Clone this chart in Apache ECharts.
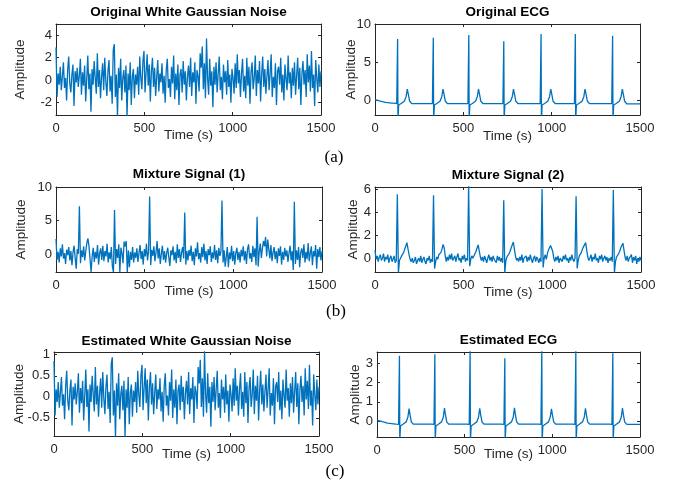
<!DOCTYPE html>
<html>
<head>
<meta charset="utf-8">
<title>WGN / ECG separation</title>
<script src="https://cdn.jsdelivr.net/npm/echarts@6/dist/echarts.min.js"></script>
<style>
html, body { margin: 0; padding: 0; background: #fff; }
#main { width: 676px; height: 489px; }
</style>
</head>
<body>
<div id="main"></div>
<script>
var step = 6;
var xTicks = [0, 500, 1000, 1500];

var noiseOrig = [
  2.9, -1.5, 0.6, -0.4, 1.2, -0.9, 0.3, 1.6, -0.7, 0.2, -1.8, 0.9, 2.1, -0.3, -1.1, 0.5, 1.4, -2.3, 0.8, -0.2, 1.1, -0.6, 0.4, 1.9, -1.3,
  0.7, -0.5, 1.3, -1.9, 0.1, 2.2, -0.8, 0.6, -2.8, 1.0, -0.4, 1.7, 0.2, -1.2, 2.4, -0.6, 0.9, -1.6, 0.3, 1.5, -0.9, 2.0, -0.1, -1.4, 0.8,
  1.8, -1.0, 0.4, -2.1, 2.7, 3.2, -1.5, 0.5, -3.3, 1.1, -0.7, 1.9, -1.8, 0.2, 0.9, -1.1, 1.3, -3.3, 0.6, -0.9, 1.6, -2.2, 0.3, 1.0, -1.6,
  0.5, -0.4, 1.2, -1.3, 2.1, 0.2, -0.8, 1.7, 2.6, -1.1, 0.7, 2.3, -0.5, 1.4, -1.9, 0.8, 2.0, -0.6, 1.1, -1.4, 0.3, 1.8, -1.0, 0.6, -0.2,
  1.5, -1.2, 0.4, -2.0, 0.9, 1.9, -0.7, 0.1, -1.5, 1.2, -0.3, 2.2, -1.7, 0.6, -0.9, 1.4, -2.2, 0.5, 1.0, -1.1, 1.7, -0.4, 0.8, -1.8, 0.3,
  1.3, -0.6, 2.0, -1.4, 0.7, -0.2, 1.6, -2.1, 0.9, 0.4, -1.0, 2.4, 1.1, 3.0, -0.8, 1.5, -1.6, 3.7, 0.2, -1.3, 1.9, -0.5, 0.8, -2.4, 1.2,
  -0.4, 1.6, -1.1, 0.6, 2.1, -0.9, 0.3, -1.7, 1.4, -0.2, 0.8, -1.3, 1.8, -0.6, 0.5, -2.0, 1.0, 0.2, -1.2, 1.5, -0.7, 2.3, -0.3, 0.9, -1.5,
  0.6, 1.9, -1.0, 0.4, -1.6, 2.0, -0.5, 1.2, -2.1, 0.7, 1.6, -0.8, 0.2, 2.2, -1.4, 0.9, -0.3, 1.7, -1.9, 0.5, 2.1, -0.6, 1.0, -1.2, 0.4,
  1.8, -0.9, 0.6, 2.3, -1.5, 0.3, -0.7, 1.5, -2.2, 0.8, 1.2, -0.4, 2.0, -1.1, 0.5, -1.8, 1.4, 0.1, -0.9, 2.2, -0.3, 0.7, -1.6, 1.1, -0.5,
  1.6, -1.3, 0.4, 2.0, -0.8, 1.1, -2.2, 0.6, 1.7, -0.4, 0.9, -1.5, 2.3, -0.2, 1.3, -1.0, 2.6, -0.7, 0.5, -2.3, 1.8, 0.2, -1.1, 1.4, -0.6,
  0.8
];

var mixture1 = [
  2.3, -0.8, 0.4, -1.2, 0.9, -0.3, 1.5, -0.6, 0.2, -1.4, 0.7, -0.1, 1.1, -0.9, 0.5, -1.6, 0.3, 1.3, -0.5, -2.1, 0.8, 0.1, 7.15, -1.3, 0.6,
  -0.4, 1.2, -0.9, 0.5, 1.7, 2.4, 1.2, -0.7, -2.6, -0.2, 1.0, -1.1, 0.4, -0.6, 1.4, -1.5, 0.2, 0.9, -0.8, 1.3, -1.0, 0.5, -0.3, 1.6, -1.2,
  0.3, -0.7, 1.1, -1.8, -2.6, 6.6, -1.4, 0.8, -0.5, 1.5, -2.6, 1.0, 0.2, -1.3, 1.9, 1.2, 2.0, -2.6, 0.6, -1.9, 0.4, -0.8, 1.1, -1.2, 0.3,
  -0.5, 0.9, -1.1, 0.2, 1.4, -0.7, 0.5, -1.5, 0.8, -0.3, 1.6, -0.9, 0.4, 8.6, -1.6, 0.7, -0.2, 1.2, -1.0, 0.3, 2.0, -0.6, 0.9, -1.4, 0.1,
  1.3, -0.8, 0.5, -1.2, 0.2, 1.0, -0.4, -1.7, 0.6, -0.1, 1.2, -0.9, 0.4, -1.3, 1.5, -0.5, 0.8, -1.1, 0.3, 1.1, -0.6, 6.2, -1.5, 0.5, -0.9,
  0.7, -0.2, 1.3, -1.0, 0.4, -1.6, 0.9, -0.3, 1.8, -0.7, 0.2, -1.2, 1.1, -0.4, 1.6, -0.9, 0.5, -1.4, 0.8, -0.1, 1.2, -1.1, 0.3, -0.6, 1.4,
  -0.8, 0.6, -1.3, 1.0, -0.2, 0.4, 8.0, -1.2, 0.6, -1.8, -0.4, 1.1, -1.9, 0.3, -0.7, 1.3, -1.0, 0.5, -1.5, 0.2, 1.0, -0.8, 0.4, -1.2, 0.7,
  -0.3, 1.2, -0.9, 0.5, -1.4, 0.8, 1.5, -0.6, 0.2, -1.1, 1.3, -0.4, 0.9, -1.6, 5.6, -1.8, 0.4, 1.6, -0.5, 0.9, 2.0, 1.2, 2.6, -0.3, 2.2,
  0.8, -0.6, 1.4, -1.0, 0.3, 1.1, -0.7, 0.5, -1.3, 0.9, -0.2, 1.2, -1.5, 0.4, -0.8, 1.0, -0.3, 0.6, -1.1, 0.2, 1.3, -0.9, 0.5, -2.3, 7.8,
  -1.4, 0.6, -0.8, 1.1, -1.9, 0.3, 0.9, -0.5, 1.5, -1.2, 0.4, -0.7, 1.7, -1.0, 0.2, 1.2, -1.6, 0.5, -0.3, 1.4, -2.1, 0.8, -0.4, 1.1, -0.9,
  0.5
];

var mixture2 = [
  0.7, -0.1, 0.2, -0.3, 0.1, 0.3, -0.2, 0.0, 0.4, -0.3, 0.1, -0.1, 0.3, -0.4, 0.0, 0.2, -0.3, -0.1, 0.2, -0.4, -0.2, 5.54, -1.3, -0.2, 0.0,
  0.2, 0.1, 0.5, 0.8, 0.9, 1.35, 0.8, 0.3, -0.1, -0.3, 0.0, -0.4, -0.2, 0.1, -0.5, -0.2, 0.0, -0.3, 0.2, -0.4, -0.1, 0.1, -0.3, -0.5, 0.0,
  -0.2, 0.2, -0.4, -0.1, -0.3, 5.46, -0.9, -0.3, 0.1, -0.1, 0.3, 0.2, 0.5, 0.8, 1.2, 0.9, 0.2, -0.3, 0.1, -0.2, 0.3, -0.1, 0.4, -0.2, 0.0,
  0.2, -0.3, 0.1, 0.4, -0.2, 0.0, -0.4, 0.2, -0.1, 0.3, -0.3, 0.0, -0.2, 6.3, -0.7, -0.1, 0.2, 0.0, 0.1, 0.4, 0.6, 0.9, 1.15, 0.6, 0.1,
  -0.2, 0.1, -0.3, 0.2, -0.1, -0.4, 0.0, 0.3, -0.2, 0.1, -0.3, 0.2, -0.1, 0.0, -0.4, 0.2, -0.2, 0.1, -0.3, 0.0, -0.4, 5.03, -1.3, -0.2, 0.1,
  0.2, 0.4, 0.6, 0.9, 1.0, 1.4, 0.8, 0.2, -0.2, 0.0, -0.3, 0.1, -0.2, 0.3, -0.4, 0.0, -0.1, 0.2, -0.3, 0.1, -0.2, 0.3, -0.1, -0.4, 0.0,
  0.2, -0.3, 0.1, -0.1, -0.4, 0.0, -0.3, 6.0, -0.8, 0.0, 0.3, -0.1, 0.4, 0.7, 0.9, 1.1, 1.25, 0.6, 0.0, -0.3, 0.1, -0.2, 0.2, -0.4, 0.0,
  0.1, -0.3, 0.2, -0.1, 0.3, -0.2, 0.0, -0.4, 0.1, -0.2, 0.3, -0.1, -0.3, 0.0, 5.37, -0.9, -0.2, 0.2, 0.1, 0.5, 0.8, 1.0, 1.0, 1.35, 0.7,
  0.1, -0.2, 0.0, 0.3, -0.3, 0.1, -0.1, 0.4, -0.2, 0.0, -0.4, 0.2, -0.1, 0.3, -0.3, 0.0, 0.2, -0.2, 0.1, -0.4, 0.0, -0.2, 0.1, -0.3, 5.9,
  -1.3, -0.3, 0.1, 0.2, 0.4, 0.6, 0.9, 1.0, 1.3, 0.7, 0.1, -0.2, 0.2, -0.3, 0.0, -0.1, 0.3, -0.4, 0.1, -0.2, 0.2, -0.5, 0.0, -0.3, 0.1,
  -0.2
];

var noiseEst = [
  0.85, -0.44, 0.18, -0.12, 0.35, -0.26, 0.09, 0.47, -0.21, 0.06, -0.53, 0.26, 0.62, -0.09, -0.32, 0.15, 0.41, -0.68, 0.24, -0.06, 0.32, -0.18, 0.12, 0.56, -0.38,
  0.21, -0.15, 0.38, -0.56, 0.03, 0.65, -0.24, 0.18, -0.82, 0.29, -0.12, 0.5, 0.06, -0.35, 0.71, -0.18, 0.26, -0.47, 0.09, 0.44, -0.26, 0.59, -0.03, -0.41, 0.24,
  0.53, -0.29, 0.12, -0.62, 0.79, 0.94, -0.44, 0.15, -0.97, 0.32, -0.21, 0.56, -0.53, 0.06, 0.26, -0.32, 0.38, -0.97, 0.18, -0.26, 0.47, -0.65, 0.09, 0.29, -0.47,
  0.15, -0.12, 0.35, -0.38, 0.62, 0.06, -0.24, 0.5, 0.76, -0.32, 0.21, 0.68, -0.15, 0.41, -0.56, 0.24, 0.59, -0.18, 0.32, -0.41, 0.09, 0.53, -0.29, 0.18, -0.06,
  0.44, -0.35, 0.12, -0.59, 0.26, 0.56, -0.21, 0.03, -0.44, 0.35, -0.09, 0.65, -0.5, 0.18, -0.26, 0.41, -0.65, 0.15, 0.29, -0.32, 0.5, -0.12, 0.24, -0.53, 0.09,
  0.38, -0.18, 0.59, -0.41, 0.21, -0.06, 0.47, -0.62, 0.26, 0.12, -0.29, 0.71, 0.32, 0.88, -0.24, 0.44, -0.47, 1.09, 0.06, -0.38, 0.56, -0.15, 0.24, -0.71, 0.35,
  -0.12, 0.47, -0.32, 0.18, 0.62, -0.26, 0.09, -0.5, 0.41, -0.06, 0.24, -0.38, 0.53, -0.18, 0.15, -0.59, 0.29, 0.06, -0.35, 0.44, -0.21, 0.68, -0.09, 0.26, -0.44,
  0.18, 0.56, -0.29, 0.12, -0.47, 0.59, -0.15, 0.35, -0.62, 0.21, 0.47, -0.24, 0.06, 0.65, -0.41, 0.26, -0.09, 0.5, -0.56, 0.15, 0.62, -0.18, 0.29, -0.35, 0.12,
  0.53, -0.26, 0.18, 0.68, -0.44, 0.09, -0.21, 0.44, -0.65, 0.24, 0.35, -0.12, 0.59, -0.32, 0.15, -0.53, 0.41, 0.03, -0.26, 0.65, -0.09, 0.21, -0.47, 0.32, -0.15,
  0.47, -0.38, 0.12, 0.59, -0.24, 0.32, -0.65, 0.18, 0.5, -0.12, 0.26, -0.44, 0.68, -0.06, 0.38, -0.29, 0.76, -0.21, 0.15, -0.68, 0.53, 0.06, -0.32, 0.41, -0.18,
  0.24
];

// clean ECG: breakpoints (time, amplitude)
var ecgTime = [
  0, 30, 60, 95,
  108, 116, 123, 126, 128, 130, 134, 148, 166, 176, 183, 188, 196, 208,
  310, 318, 325, 328, 330, 332, 336, 350, 368, 378, 385, 390, 398, 410,
  511, 519, 526, 529, 531, 533, 537, 551, 569, 579, 586, 591, 599, 611,
  709, 717, 724, 727, 729, 731, 735, 749, 767, 777, 784, 789, 797, 809,
  920, 928, 935, 938, 940, 942, 946, 960, 978, 988, 995, 1000, 1008, 1020,
  1114, 1122, 1129, 1132, 1134, 1136, 1140, 1154, 1172, 1182, 1189, 1194, 1202, 1214,
  1325, 1333, 1340, 1343, 1345, 1347, 1351, 1365, 1383, 1393, 1400, 1405, 1413, 1425,
  1500
];
var ecgOrig = [
  0.1, -0.1, -0.25, -0.35,
  -0.35, -0.2, -0.4, -0.6, 8.05, -2.6, -0.6, -0.4, -0.1, 0.5, 1.5, 0.9, -0.1, -0.4,
  -0.4, -0.2, -0.4, -0.6, 8.2, -2.6, -0.6, -0.4, -0.1, 0.5, 1.5, 0.9, -0.1, -0.4,
  -0.4, -0.2, -0.4, -0.6, 8.55, -2.6, -0.6, -0.4, -0.1, 0.5, 1.5, 0.9, -0.1, -0.4,
  -0.4, -0.2, -0.4, -0.6, 7.75, -2.6, -0.6, -0.4, -0.1, 0.5, 1.5, 0.9, -0.1, -0.4,
  -0.4, -0.2, -0.4, -0.6, 8.7, -2.6, -0.6, -0.4, -0.1, 0.5, 1.5, 0.9, -0.1, -0.4,
  -0.4, -0.2, -0.4, -0.6, 8.7, -2.6, -0.6, -0.4, -0.1, 0.5, 1.5, 0.9, -0.1, -0.4,
  -0.4, -0.2, -0.4, -0.6, 8.45, -2.6, -0.6, -0.4, -0.1, 0.5, 1.5, 0.9, -0.1, -0.45,
  -0.45
];
var ecgEst = [
  0.05, -0.03, -0.1, -0.14,
  -0.16, -0.1, -0.17, -0.25, 3.38, -1.0, -0.25, -0.16, -0.04, 0.2, 0.65, 0.35, -0.05, -0.16,
  -0.16, -0.1, -0.17, -0.25, 3.45, -1.0, -0.25, -0.16, -0.04, 0.2, 0.67, 0.35, -0.05, -0.16,
  -0.16, -0.1, -0.17, -0.25, 3.65, -1.0, -0.25, -0.16, -0.04, 0.2, 0.66, 0.35, -0.05, -0.16,
  -0.16, -0.1, -0.17, -0.25, 3.25, -1.0, -0.25, -0.16, -0.04, 0.2, 0.68, 0.35, -0.05, -0.16,
  -0.16, -0.1, -0.17, -0.25, 3.65, -1.0, -0.25, -0.16, -0.04, 0.2, 0.64, 0.35, -0.05, -0.16,
  -0.16, -0.1, -0.17, -0.25, 3.65, -1.0, -0.25, -0.16, -0.04, 0.2, 0.66, 0.35, -0.05, -0.16,
  -0.16, -0.1, -0.17, -0.25, 3.5, -1.0, -0.25, -0.16, -0.04, 0.2, 0.67, 0.35, -0.05, -0.17,
  -0.17
];

var yTicksWgn = [-2, 0, 2, 4];
var yTicksEcg = [0, 5, 10];
var yTicksMix1 = [0, 5, 10];
var yTicksMix2 = [0, 2, 4, 6];
var yTicksEstWgn = [-0.5, 0, 0.5, 1];
var yTicksEstEcg = [0, 1, 2, 3];

var chart = echarts.init(document.getElementById('main'));

var lineColor = '#0072BD';
var axisColor = '#262626';
var font = '"Liberation Sans", Arial, sans-serif';

function sampled(values) {
  return values.map(function (v, i) { return [i * step, v]; });
}
function paired(t, v) {
  return t.map(function (x, i) { return [x, v[i]]; });
}

var panels = [
  { title: 'Original White Gaussian Noise', rect: [56, 24, 265, 91], yMin: -3.1, yMax: 5, yTicks: yTicksWgn,
    yGap: 29, xGap: 13, titleY: 13, data: sampled(noiseOrig) },
  { title: 'Original ECG', rect: [375, 24, 265, 91], yMin: -1.9, yMax: 10, yTicks: yTicksEcg,
    yGap: 17, xGap: 14, titleY: 13, data: paired(ecgTime, ecgOrig) },
  { title: 'Mixture Signal (1)', rect: [56, 187, 266, 85], yMin: -2.6, yMax: 10, yTicks: yTicksMix1,
    yGap: 28, xGap: 12, titleY: 175, data: sampled(mixture1) },
  { title: 'Mixture Signal (2)', rect: [375, 187, 266, 85], yMin: -1.2, yMax: 6.17, yTicks: yTicksMix2,
    yGap: 15, xGap: 13, titleY: 176, data: sampled(mixture2) },
  { title: 'Estimated White Gaussian Noise', rect: [54, 352, 265, 84], yMin: -0.93, yMax: 1.065, yTicks: yTicksEstWgn,
    yGap: 28, xGap: 11, titleY: 342, data: sampled(noiseEst) },
  { title: 'Estimated ECG', rect: [377, 352, 263, 85], yMin: -0.82, yMax: 3.57, yTicks: yTicksEstEcg,
    yGap: 15, xGap: 10, titleY: 341, data: paired(ecgTime, ecgEst) }
];

var option = {
  animation: false,
  backgroundColor: '#fff',
  title: [],
  grid: [],
  xAxis: [],
  yAxis: [],
  series: [],
  graphic: []
};

var plain = function (v) { return String(v); };
var labelStyle = { color: axisColor, fontFamily: font, fontSize: 13 };

panels.forEach(function (p, k) {
  option.grid.push({ left: p.rect[0], top: p.rect[1], width: p.rect[2], height: p.rect[3] });
  option.title.push({
    text: p.title, left: p.rect[0] + p.rect[2] / 2, top: p.titleY - 8, textAlign: 'center', padding: 0,
    textStyle: { fontFamily: font, fontSize: 13.5, fontWeight: 'bold', color: '#000' }
  });
  var line = { show: true, onZero: false, lineStyle: { color: axisColor, width: 1 } };
  // bottom and top x axes (top one only carries the box edge and ticks)
  option.xAxis.push({
    gridIndex: k, type: 'value', min: 0, max: 1500, position: 'bottom',
    name: 'Time (s)', nameLocation: 'middle', nameGap: p.xGap, nameMoveOverlap: false,
    nameTextStyle: { color: axisColor, fontFamily: font, fontSize: 13.5 },
    axisLine: line,
    axisTick: { inside: true, length: 3, customValues: xTicks, lineStyle: { color: axisColor } },
    axisLabel: Object.assign({ customValues: xTicks, margin: 7, formatter: plain }, labelStyle),
    splitLine: { show: false }
  });
  option.xAxis.push({
    gridIndex: k, type: 'value', min: 0, max: 1500, position: 'top',
    axisLine: line,
    axisTick: { inside: true, length: 3, customValues: xTicks, lineStyle: { color: axisColor } },
    axisLabel: { show: false }, splitLine: { show: false }
  });
  option.yAxis.push({
    gridIndex: k, type: 'value', min: p.yMin, max: p.yMax, position: 'left',
    name: 'Amplitude', nameLocation: 'middle', nameGap: p.yGap, nameRotate: 90, nameMoveOverlap: false,
    nameTextStyle: { color: axisColor, fontFamily: font, fontSize: 13.5 },
    axisLine: line,
    axisTick: { inside: true, length: 3, customValues: p.yTicks, lineStyle: { color: axisColor } },
    axisLabel: Object.assign({ customValues: p.yTicks, margin: 4, formatter: plain }, labelStyle),
    splitLine: { show: false }
  });
  option.yAxis.push({
    gridIndex: k, type: 'value', min: p.yMin, max: p.yMax, position: 'right',
    axisLine: line,
    axisTick: { inside: true, length: 3, customValues: p.yTicks, lineStyle: { color: axisColor } },
    axisLabel: { show: false }, splitLine: { show: false }
  });
  option.series.push({
    type: 'line', xAxisIndex: 2 * k, yAxisIndex: 2 * k, data: p.data,
    showSymbol: false, symbol: 'none', clip: true, silent: true,
    lineStyle: { color: lineColor, width: 1.3 }
  });
});

// sub-figure captions
[['(a)', 334, 158], ['(b)', 336, 312], ['(c)', 335, 472]].forEach(function (c) {
  option.graphic.push({
    type: 'text', x: c[1], y: c[2], silent: true,
    style: { text: c[0], fill: '#000', font: '17px "Liberation Serif", "Times New Roman", serif',
             textAlign: 'center', textVerticalAlign: 'middle' }
  });
});

chart.setOption(option);
window.onresize = function () {
  chart.resize();
};
</script>
</body>
</html>
